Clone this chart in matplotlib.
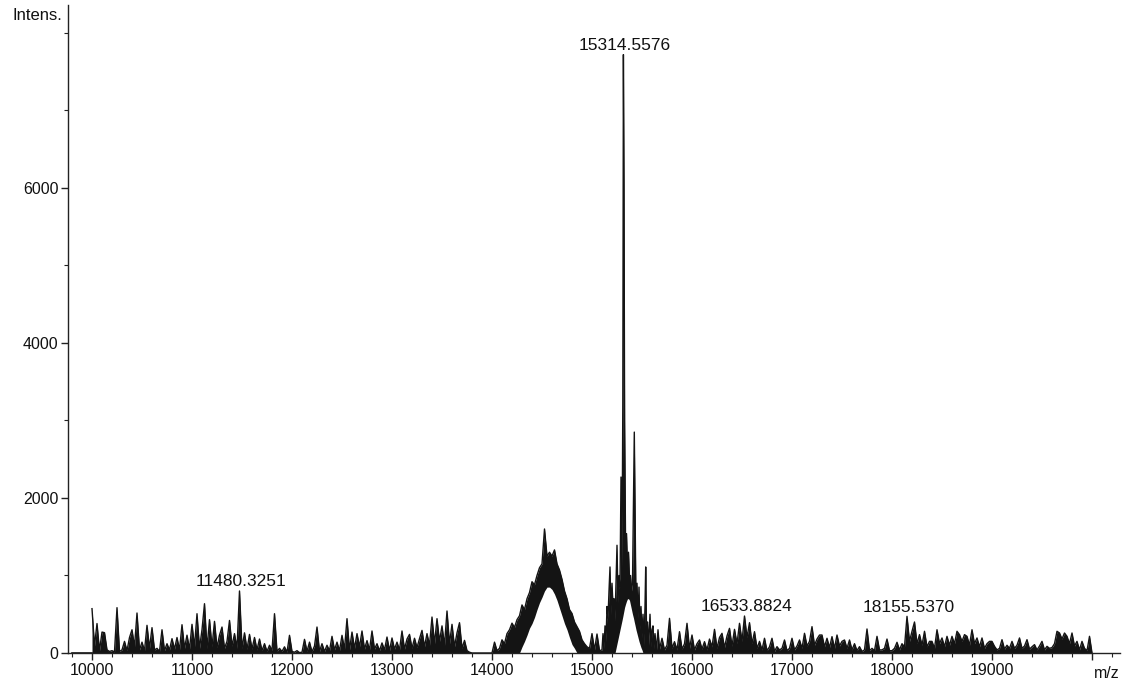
#!/usr/bin/env python3
import numpy as np
import matplotlib
matplotlib.use("Agg")
import matplotlib.pyplot as plt
from matplotlib.ticker import MultipleLocator

# m/z sampling step of the low-intensity stretches (Da)
STEP = 25

# 10000 - 13775 Da, intensities
NOISE_A_START = 10000
NOISE_A = [
    572, 90, 380, 30, 270, 262, 40, 20, 30, 15, 585, 20,
    40, 150, 30, 200, 300, 80, 516, 40, 140, 30, 357, 60,
    327, 40, 60, 20, 300, 30, 120, 40, 185, 50, 200, 40,
    365, 60, 230, 50, 370, 80, 507, 60, 300, 636, 60, 430,
    80, 408, 70, 230, 335, 60, 150, 420, 90, 250, 60, 800,
    60, 260, 50, 240, 50, 200, 40, 180, 30, 120, 20, 100,
    30, 507, 20, 60, 20, 80, 10, 228, 20, 10, 30, 5,
    10, 176, 20, 140, 15, 90, 335, 20, 120, 20, 100, 30,
    215, 40, 140, 30, 228, 50, 443, 40, 270, 60, 250, 80,
    284, 50, 160, 40, 284, 50, 120, 30, 130, 40, 206, 30,
    194, 50, 140, 40, 284, 50, 180, 240, 60, 190, 70, 185,
    292, 80, 250, 100, 464, 120, 443, 150, 350, 100, 542, 120,
    370, 80, 260, 391, 60, 163, 30, 10,
]

# empty stretch before the broad hump
GAP_MZ = [13800, 13900, 13975]
GAP_I = [0, 0, 0]

# broad hump 14000 - 15075 Da: upper and lower edge of the dense band
HUMP_START = 14000
HUMP_UP = [
    0, 140, 30, 60, 170, 120, 250, 300, 385, 330, 430, 480,
    620, 560, 700, 780, 920, 880, 1000, 1100, 1150, 1600, 1250, 1300,
    1250, 1330, 1150, 1070, 950, 800, 700, 560, 510, 400, 340, 280,
    170, 120, 80, 60, 250, 40, 245, 30,
]
HUMP_LO = [
    0, 0, 0, 0, 0, 0, 0, 0, 0, 0, 0, 0,
    80, 150, 230, 320, 380, 460, 560, 650, 720, 800, 850, 850,
    820, 760, 680, 580, 480, 380, 300, 200, 110, 60, 0, 0,
    0, 0, 0, 0, 0, 0, 0, 0,
]

# main peak cluster: trace and lower edge of the dense band
CLUSTER_MZ = [
    15100, 15110, 15120, 15130, 15140, 15150, 15160, 15170, 15180, 15190,
    15200, 15210, 15220, 15230, 15240, 15250, 15260, 15270, 15280, 15290,
    15300, 15308, 15314, 15320, 15326, 15335, 15345, 15355, 15365, 15375,
    15385, 15395, 15405, 15415, 15423, 15430, 15440, 15450, 15460, 15470,
    15480, 15490, 15500, 15510, 15520, 15530, 15537, 15545, 15555, 15565,
    15580, 15590, 15600, 15610, 15620, 15630, 15645, 15660, 15675,
]
CLUSTER_I = [
    40, 250, 60, 350, 150, 600, 450, 800, 1110, 500,
    900, 600, 700, 420, 900, 1390, 650, 1000, 850, 2270,
    1100, 3200, 7720, 6040, 3000, 1500, 1540, 1100, 1300, 950,
    1000, 800, 900, 1930, 2850, 1900, 600, 900, 450, 850,
    300, 600, 200, 500, 100, 600, 1110, 300, 400, 100,
    500, 80, 300, 350, 60, 250, 40, 300, 50,
]
CLUSTER_LO = [
    0, 0, 0, 0, 0, 0, 0, 0, 0, 0,
    0, 0, 0, 0, 60, 120, 180, 240, 300, 360,
    420, 470, 510, 550, 590, 630, 670, 700, 700, 680,
    620, 560, 500, 450, 400, 360, 300, 250, 200, 150,
    110, 70, 40, 0, 0, 0, 0, 0, 0, 0,
    0, 0, 0, 0, 0, 0, 0, 0, 0,
]

# 15700 - 19975 Da
NOISE_B_START = 15700
NOISE_B = [
    190, 40, 100, 447, 60, 146, 40, 275, 50, 120, 383, 60,
    232, 40, 120, 168, 50, 146, 40, 180, 80, 305, 60, 200,
    254, 70, 220, 318, 90, 305, 120, 383, 150, 477, 200, 391,
    120, 275, 60, 150, 40, 190, 30, 80, 190, 20, 82, 40,
    60, 168, 30, 60, 190, 40, 90, 168, 60, 254, 90, 150,
    340, 100, 180, 232, 232, 80, 190, 70, 211, 60, 232, 90,
    150, 168, 60, 168, 40, 120, 30, 82, 20, 40, 310, 30,
    60, 30, 215, 40, 40, 60, 180, 30, 30, 60, 138, 40,
    120, 80, 473, 150, 280, 400, 120, 237, 100, 280, 80, 150,
    150, 60, 300, 120, 194, 80, 215, 100, 215, 120, 280, 237,
    150, 237, 215, 100, 300, 120, 194, 80, 194, 60, 120, 150,
    150, 86, 40, 60, 172, 50, 100, 60, 150, 60, 100, 194,
    60, 90, 172, 50, 80, 108, 40, 90, 150, 40, 86, 60,
    70, 120, 280, 258, 180, 258, 215, 120, 258, 90, 150, 40,
    150, 60, 30, 215,
]
END_MZ = [20000]
END_I = [0]

PEAK_LABELS = ["11480.3251", "15314.5576", "16533.8824", "18155.5370"]
PEAK_MZ = [11480, 15314, 16533, 18155]
PEAK_I = [800, 7720, 477, 473]

assert len(CLUSTER_MZ) == len(CLUSTER_I) == len(CLUSTER_LO)
assert len(HUMP_UP) == len(HUMP_LO)

mz = np.concatenate([
    NOISE_A_START + STEP * np.arange(len(NOISE_A)),
    GAP_MZ,
    HUMP_START + STEP * np.arange(len(HUMP_UP)),
    CLUSTER_MZ,
    NOISE_B_START + STEP * np.arange(len(NOISE_B)),
    END_MZ,
])
upper = np.concatenate([NOISE_A, GAP_I, HUMP_UP, CLUSTER_I, NOISE_B, END_I])
lower = np.concatenate([np.zeros(len(NOISE_A)), GAP_I, HUMP_LO, CLUSTER_LO,
                        np.zeros(len(NOISE_B)), END_I])

plt.rcParams["font.family"] = ["Liberation Sans", "DejaVu Sans"]
W, H = 1125, 698
fig = plt.figure(figsize=(W / 100, H / 100), dpi=100)
ax = fig.add_axes([68 / W, 45 / H, (1120 - 68) / W, (653 - 5) / H])

ink = "#141414"
ax.fill_between(mz, lower, upper, color=ink, lw=0)
ax.plot(mz, upper, color=ink, lw=1.0)
ax.plot([9800, 10000], [0, 0], color=ink, lw=1.2)

ax.set_xlim(9760, 20280)
ax.set_ylim(0, 8360)

for s in ("top", "right"):
    ax.spines[s].set_visible(False)
for s in ("left", "bottom"):
    ax.spines[s].set_linewidth(1.0)
    ax.spines[s].set_color("#222222")

ax.set_xticks(np.arange(10000, 20001, 1000))
ax.set_xticklabels([str(v) for v in range(10000, 20000, 1000)] + [""])
ax.xaxis.set_minor_locator(MultipleLocator(200))
ax.set_yticks([0, 2000, 4000, 6000])
ax.yaxis.set_minor_locator(MultipleLocator(1000))
ax.tick_params(which="major", length=5, width=1, color="#222222",
               labelsize=11.5, labelcolor="#111111", pad=2)
ax.tick_params(which="minor", length=3, width=0.8, color="#222222")

for lab, x, y in zip(PEAK_LABELS, PEAK_MZ, PEAK_I):
    ax.text(x + 10, y + 60, lab, ha="center", va="baseline", fontsize=12.5,
            color="#111111")

fig.text(13 / W, 1 - 20 / H, "Intens.", ha="left", va="baseline",
         fontsize=12, color="#111111")
fig.text(1107 / W, 1 - 678 / H, "m/z", ha="center", va="baseline",
         fontsize=11.5, color="#111111")

fig.savefig("out.png", dpi=100)
